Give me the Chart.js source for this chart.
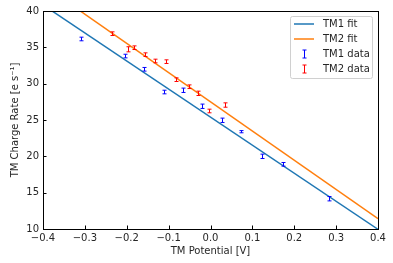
<!DOCTYPE html>
<html>
<head>
<meta charset="utf-8">
<script src="https://cdn.jsdelivr.net/npm/chart.js@4"></script>
<style>
  html, body { margin: 0; padding: 0; background: #ffffff; }
  #wrap { width: 393px; height: 263px; }
</style>
</head>
<body>
<div id="wrap"><canvas id="chargeChart" width="393" height="263"></canvas></div>
<script>
// Dados
const tm1X = [-0.309, -0.203, -0.158, -0.110, -0.065, -0.020, 0.028, 0.074, 0.123, 0.172, 0.284];
const tm1Y = [36.15, 33.8, 31.98, 28.85, 29.09, 26.89, 24.96, 23.39, 20.0, 18.9, 14.17];
const tm1Err = [0.25, 0.25, 0.25, 0.25, 0.3, 0.3, 0.3, 0.15, 0.3, 0.25, 0.3];

const tm2X = [-0.235, -0.196, -0.183, -0.156, -0.132, -0.106, -0.082, -0.052, -0.029, -0.003, 0.035];
const tm2Y = [36.88, 34.73, 34.95, 33.99, 33.12, 33.03, 30.55, 29.58, 28.67, 26.24, 27.06];
const tm2Err = [0.25, 0.35, 0.25, 0.25, 0.25, 0.25, 0.25, 0.25, 0.3, 0.25, 0.3];

// Retas de ajuste (extremos)
const fitX = [-0.4, 0.4];
const tm1FitY = [40.84, 9.96];
const tm2FitY = [43.58, 11.42];

const xTicks = [-0.4, -0.3, -0.2, -0.1, 0.0, 0.1, 0.2, 0.3, 0.4];
const yTicks = [10, 15, 20, 25, 30, 35, 40];

const colors = {
    tm1Fit: '#1f77b4',
    tm2Fit: '#ff7f0e',
    tm1Data: '#0000ff',
    tm2Data: '#ff0000',
    axis: '#000000',
    text: '#262626',
};

const font = 'DejaVu Sans';

const toPoints = (xs, ys) => xs.map((x, i) => ({ x: x, y: ys[i] }));
const fmtMinus = (s) => s.replace('-', '\u2212');

// Barras de erro, moldura, ticks para dentro e legenda no estilo matplotlib
const decorPlugin = {
    id: 'decor',
    afterDatasetsDraw(chart) {
        const c = chart.ctx;
        const xs = chart.scales.x;
        const ys = chart.scales.y;
        const area = chart.chartArea;

        const drawErr = (xv, yv, ev, col) => {
            c.save();
            c.strokeStyle = col;
            c.lineWidth = 1;
            xv.forEach((x, i) => {
                const px = Math.round(xs.getPixelForValue(x)) + 0.5;
                const top = ys.getPixelForValue(yv[i] + ev[i]);
                const bot = ys.getPixelForValue(yv[i] - ev[i]);
                c.beginPath();
                c.moveTo(px, top); c.lineTo(px, bot);
                c.moveTo(px - 2, top); c.lineTo(px + 2, top);
                c.moveTo(px - 2, bot); c.lineTo(px + 2, bot);
                c.stroke();
            });
            c.restore();
        };
        drawErr(tm1X, tm1Y, tm1Err, colors.tm1Data);
        drawErr(tm2X, tm2Y, tm2Err, colors.tm2Data);

        // moldura
        c.save();
        c.strokeStyle = colors.axis;
        c.lineWidth = 1;
        c.strokeRect(Math.round(area.left) + 0.5, Math.round(area.top) + 0.5,
            Math.round(area.right - area.left), Math.round(area.bottom - area.top));

        // ticks para dentro
        c.beginPath();
        xTicks.forEach(t => {
            const px = Math.round(xs.getPixelForValue(t)) + 0.5;
            c.moveTo(px, area.bottom);
            c.lineTo(px, area.bottom - 3.5);
        });
        yTicks.forEach(t => {
            const py = Math.round(ys.getPixelForValue(t)) + 0.5;
            c.moveTo(area.left, py);
            c.lineTo(area.left + 3.5, py);
        });
        c.stroke();

        // legenda
        const lx = 290.5, ly = 16.5, lw = 82, lh = 62;
        c.fillStyle = 'rgba(255,255,255,0.8)';
        c.strokeStyle = '#d0d0d0';
        c.beginPath();
        c.roundRect(lx, ly, lw, lh, 2);
        c.fill();
        c.stroke();

        const items = [
            { label: 'TM1 fit', type: 'line', color: colors.tm1Fit },
            { label: 'TM2 fit', type: 'line', color: colors.tm2Fit },
            { label: 'TM1 data', type: 'err', color: colors.tm1Data },
            { label: 'TM2 data', type: 'err', color: colors.tm2Data },
        ];
        c.font = '10px "' + font + '"';
        c.textBaseline = 'middle';
        c.textAlign = 'left';
        items.forEach((it, i) => {
            const y = 24 + i * 15;
            c.strokeStyle = it.color;
            if (it.type === 'line') {
                c.lineWidth = 1.5;
                c.beginPath();
                c.moveTo(294, y); c.lineTo(314, y);
                c.stroke();
            } else {
                c.lineWidth = 1;
                c.beginPath();
                c.moveTo(304.5, y - 4); c.lineTo(304.5, y + 4);
                c.moveTo(302.5, y - 4); c.lineTo(306.5, y - 4);
                c.moveTo(302.5, y + 4); c.lineTo(306.5, y + 4);
                c.stroke();
            }
            c.fillStyle = colors.text;
            c.fillText(it.label, 323, y + 0.5);
        });
        c.restore();
    }
};

const ctx = document.getElementById('chargeChart');

new Chart(ctx, {
    type: 'line',
    data: {
        datasets: [{
            label: 'TM1 fit',
            data: toPoints(fitX, tm1FitY),
            borderColor: colors.tm1Fit,
            borderWidth: 1.5,
            pointRadius: 0,
            fill: false,
        }, {
            label: 'TM2 fit',
            data: toPoints(fitX, tm2FitY),
            borderColor: colors.tm2Fit,
            borderWidth: 1.5,
            pointRadius: 0,
            fill: false,
        }]
    },
    options: {
        responsive: false,
        animation: false,
        events: [],
        layout: {
            padding: { top: 11, right: 15, left: 0, bottom: 0 }
        },
        plugins: {
            legend: { display: false },
            tooltip: { enabled: false },
        },
        scales: {
            x: {
                type: 'linear',
                min: -0.4,
                max: 0.4,
                afterBuildTicks: (axis) => { axis.ticks = xTicks.map(v => ({ value: v })); },
                afterFit: (axis) => { axis.height = 34; },
                grid: { display: false, drawTicks: false },
                border: { display: false },
                ticks: {
                    color: colors.text,
                    padding: 3,
                    maxRotation: 0,
                    font: { family: font, size: 10 },
                    callback: (v) => fmtMinus(Number(v).toFixed(1)),
                },
                title: {
                    display: true,
                    text: 'TM Potential [V]',
                    color: colors.text,
                    padding: { top: 2, bottom: 6 },
                    font: { family: font, size: 10 },
                }
            },
            y: {
                type: 'linear',
                min: 10,
                max: 40,
                afterBuildTicks: (axis) => { axis.ticks = yTicks.map(v => ({ value: v })); },
                afterFit: (axis) => { axis.width = 43; },
                grid: { display: false, drawTicks: false },
                border: { display: false },
                ticks: {
                    color: colors.text,
                    padding: 4,
                    font: { family: font, size: 10 },
                },
                title: {
                    display: true,
                    text: 'TM Charge Rate [e s\u207B\u00B9]',
                    color: colors.text,
                    padding: { top: 9, bottom: 0 },
                    font: { family: font, size: 10 },
                }
            }
        }
    },
    plugins: [decorPlugin]
});
</script>
</body>
</html>
